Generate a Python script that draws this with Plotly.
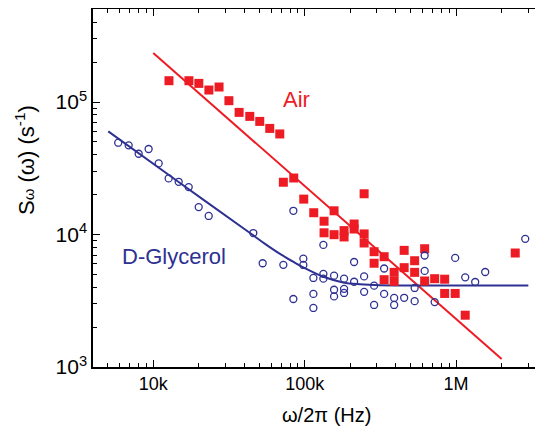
import math
import plotly.graph_objects as go

# ---------------- data ----------------
air_x = [12700, 17200, 20000, 23300, 27200, 31600, 36900, 43400, 50500, 58800,
         68500, 72300, 84700, 98600, 114800, 134300, 134300, 156400, 156400, 182100,
         182100, 212100, 212100, 247000, 247000, 247000, 287500, 287500, 334800, 334800,
         389900, 389900, 454000, 454000, 532500, 532500, 620000, 620000, 722000, 840700,
         840700, 986500, 1149000, 2458000]
air_y = [144800, 144800, 138200, 123200, 129800, 102300, 83500, 77900, 71400, 63200,
         57400, 24800, 26700, 18500, 14600, 12600, 10300, 15100, 9970, 10700,
         9580, 12000, 11000, 20300, 10100, 8630, 7420, 6070, 6800, 4560,
         5180, 4430, 7590, 5620, 6340, 5180, 7810, 4460, 4640, 4600,
         3590, 3590, 2460, 7250]

gly_x = [5870, 6880, 8010, 9320, 10860, 12640, 14720, 17140, 19960, 23240,
         45800, 52800, 72300, 84200, 84200, 98000, 98000, 114200, 114200, 114200,
         132900, 132900, 132900, 156400, 156400, 156400, 182100, 182100, 182100, 212100,
         212100, 247000, 247000, 287500, 287500, 334800, 334800, 389900, 389900, 454000,
         532500, 532500, 620000, 620000, 722000, 986500, 1149000, 1337000, 1557000, 2862000]
gly_y = [49300, 47100, 40700, 44200, 34400, 26500, 25000, 22800, 16100, 13800,
         10260, 6070, 5900, 15100, 3260, 6570, 5890, 4700, 3560, 2790,
         8350, 5040, 4640, 4890, 3830, 3410, 4640, 3890, 3620, 6200,
         4400, 4830, 3690, 4110, 2940, 5540, 3560, 3320, 2940, 3330,
         3950, 3140, 6940, 5310, 3090, 6660, 4750, 4380, 5210, 9270]

air_fit_x = [10000, 2000000]
air_fit_y = [234000, 1150]

gly_fit_x = [5045, 14790, 43550, 55000, 70000, 85000, 100000, 133000, 179500, 232000, 315000, 427000, 3000000]
gly_fit_y = [60000, 24800, 10260, 8470, 7050, 6180, 5580, 4800, 4350, 4210, 4140, 4130, 4130]

x_tick_vals = [1e4, 1e5, 1e6]
x_tick_text = ["10k", "100k", "1M"]
y_tick_vals = [1e3, 1e4, 1e5]
y_tick_text = ["10<sup>3</sup>", "10<sup>4</sup>", "10<sup>5</sup>"]

RED = "#ED1C24"
BLUE = "#2E3192"
FONT = "Liberation Sans, Arial, Helvetica, sans-serif"

x_minor = [m * 10 ** e for e in range(3, 7) for m in range(2, 10)]
y_minor = [m * 10 ** e for e in range(3, 6) for m in range(2, 10)]

fig = go.Figure()
fig.add_trace(go.Scatter(x=air_fit_x, y=air_fit_y, mode="lines",
                         line=dict(color=RED, width=2), showlegend=False, hoverinfo="skip"))
fig.add_trace(go.Scatter(x=gly_fit_x, y=gly_fit_y, mode="lines",
                         line=dict(color=BLUE, width=2, shape="spline", smoothing=1.0),
                         showlegend=False, hoverinfo="skip"))
fig.add_trace(go.Scatter(x=air_x, y=air_y, mode="markers",
                         marker=dict(symbol="square", size=9, color=RED, line=dict(width=0)),
                         showlegend=False))
fig.add_trace(go.Scatter(x=gly_x, y=gly_y, mode="markers",
                         marker=dict(symbol="circle-open", size=7, color=BLUE, line=dict(width=1.3, color=BLUE)),
                         showlegend=False))

# the page body has an 8px default margin: compensate so the plot lands where the reference has it
OFF = 8
W, H = 543 - OFF, 429 - OFF
L, T = 93 - OFF, 9 - OFF
plot_w = 450
plot_h = 358
B = H - T - plot_h
R = W - L - plot_w


def px(xw):
    return (xw - OFF - L) / plot_w


def py(yw):
    return (H - B - (yw - OFF)) / plot_h


fig.update_layout(
    width=W, height=H,
    margin=dict(l=L, r=R, t=T, b=B, pad=0),
    paper_bgcolor="white", plot_bgcolor="white",
    font=dict(family=FONT, color="black"),
    xaxis=dict(type="log", range=[math.log10(4000), math.log10(3.75e6)],
               tickvals=x_tick_vals, ticktext=x_tick_text,
               ticks="inside", ticklen=7, tickwidth=1.2, tickcolor="black",
               minor=dict(tickvals=x_minor, ticks="inside", ticklen=4, tickwidth=1, tickcolor="black", showgrid=False),
               showline=True, linecolor="black", linewidth=1.5, mirror="ticks",
               showgrid=False, zeroline=False,
               tickfont=dict(size=18, family=FONT, color="black")),
    yaxis=dict(type="log", range=[3, 5.702],
               tickvals=y_tick_vals, ticktext=y_tick_text,
               ticks="inside", ticklen=7, tickwidth=1.2, tickcolor="black",
               minor=dict(tickvals=y_minor, ticks="inside", ticklen=4, tickwidth=1, tickcolor="black", showgrid=False),
               showline=True, linecolor="black", linewidth=1.5, mirror=False,
               showgrid=False, zeroline=False,
               tickfont=dict(size=21, family=FONT, color="black")),
    annotations=[
        dict(text="Air", x=math.log10(87700), y=math.log10(104000), xref="x", yref="y",
             showarrow=False, font=dict(size=22, color=RED, family=FONT)),
        dict(text="D-Glycerol", x=math.log10(13700), y=math.log10(6840), xref="x", yref="y",
             showarrow=False, font=dict(size=22, color=BLUE, family=FONT)),
        dict(text="S<span style='font-size:15px'>ω</span> (ω) (s<sup>-1</sup>)",
             x=px(25), y=py(160), xref="paper", yref="paper",
             textangle=-90, showarrow=False, xanchor="center", yanchor="middle",
             font=dict(size=22, family=FONT, color="black")),
        dict(text="ω/2π (Hz)", x=px(326), y=py(415),
             xref="paper", yref="paper", showarrow=False, xanchor="center", yanchor="middle",
             font=dict(size=20, family=FONT, color="black")),
    ],
)

fig.write_html("out.html")
